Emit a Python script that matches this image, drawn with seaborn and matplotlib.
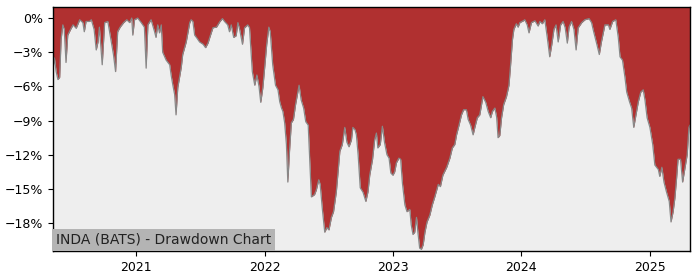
import matplotlib
matplotlib.use("Agg")
import matplotlib.pyplot as plt
import matplotlib.dates as mdates
from matplotlib.ticker import FuncFormatter, MultipleLocator
import seaborn as sns
import pandas as pd

title_text = "INDA (BATS) - Drawdown Chart"

dates = [
    "2020-05-09", "2020-05-13", "2020-05-18", "2020-05-23", "2020-05-28", "2020-06-01",
    "2020-06-06", "2020-06-10", "2020-06-15", "2020-06-20", "2020-06-28", "2020-07-05",
    "2020-07-14", "2020-07-24", "2020-08-02", "2020-08-06", "2020-08-11", "2020-08-21",
    "2020-08-26", "2020-09-03", "2020-09-09", "2020-09-14", "2020-09-18", "2020-09-26",
    "2020-10-03", "2020-10-12", "2020-10-22", "2020-10-28", "2020-11-03", "2020-11-09",
    "2020-11-16", "2020-11-26", "2020-12-05", "2020-12-13", "2020-12-19", "2020-12-22",
    "2020-12-27", "2021-01-05", "2021-01-15", "2021-01-24", "2021-01-29", "2021-02-03",
    "2021-02-12", "2021-02-22", "2021-02-26", "2021-03-03", "2021-03-08", "2021-03-13",
    "2021-03-17", "2021-03-27", "2021-04-06", "2021-04-10", "2021-04-15", "2021-04-20",
    "2021-04-24", "2021-04-29", "2021-05-04", "2021-05-09", "2021-05-13", "2021-05-23",
    "2021-06-02", "2021-06-06", "2021-06-11", "2021-06-16", "2021-06-21", "2021-06-30",
    "2021-07-10", "2021-07-17", "2021-07-24", "2021-07-29", "2021-08-07", "2021-08-17",
    "2021-08-27", "2021-09-03", "2021-09-09", "2021-09-18", "2021-09-23", "2021-09-28",
    "2021-10-05", "2021-10-12", "2021-10-17", "2021-10-22", "2021-10-30", "2021-11-05",
    "2021-11-14", "2021-11-19", "2021-11-27", "2021-12-04", "2021-12-10", "2021-12-16",
    "2021-12-21", "2021-12-27", "2022-01-01", "2022-01-07", "2022-01-13", "2022-01-17",
    "2022-01-24", "2022-02-01", "2022-02-08", "2022-02-13", "2022-02-18", "2022-02-22",
    "2022-02-27", "2022-03-04", "2022-03-08", "2022-03-13", "2022-03-18", "2022-03-24",
    "2022-03-30", "2022-04-09", "2022-04-15", "2022-04-22", "2022-04-28", "2022-05-05",
    "2022-05-09", "2022-05-14", "2022-05-23", "2022-05-28", "2022-06-04", "2022-06-08",
    "2022-06-14", "2022-06-21", "2022-06-27", "2022-07-03", "2022-07-10", "2022-07-16",
    "2022-07-24", "2022-08-03", "2022-08-10", "2022-08-17", "2022-08-23", "2022-08-29",
    "2022-09-05", "2022-09-09", "2022-09-15", "2022-09-19", "2022-09-24", "2022-09-30",
    "2022-10-08", "2022-10-16", "2022-10-22", "2022-10-27", "2022-11-04", "2022-11-10",
    "2022-11-15", "2022-11-19", "2022-11-26", "2022-12-02", "2022-12-08", "2022-12-15",
    "2022-12-21", "2022-12-26", "2023-01-01", "2023-01-06", "2023-01-11", "2023-01-18",
    "2023-01-23", "2023-01-28", "2023-02-04", "2023-02-10", "2023-02-18", "2023-02-22",
    "2023-02-27", "2023-03-04", "2023-03-09", "2023-03-13", "2023-03-18", "2023-03-23",
    "2023-03-28", "2023-04-02", "2023-04-08", "2023-04-16", "2023-04-23", "2023-04-30",
    "2023-05-10", "2023-05-16", "2023-05-23", "2023-06-03", "2023-06-12", "2023-06-19",
    "2023-06-26", "2023-07-01", "2023-07-08", "2023-07-15", "2023-07-21", "2023-07-29",
    "2023-08-03", "2023-08-10", "2023-08-17", "2023-08-22", "2023-08-29", "2023-09-05",
    "2023-09-14", "2023-09-22", "2023-09-29", "2023-10-06", "2023-10-11", "2023-10-18",
    "2023-10-23", "2023-10-27", "2023-11-01", "2023-11-06", "2023-11-12", "2023-11-20",
    "2023-11-27", "2023-12-01", "2023-12-07", "2023-12-11", "2023-12-18", "2023-12-23",
    "2023-12-28", "2024-01-07", "2024-01-11", "2024-01-18", "2024-01-23", "2024-01-30",
    "2024-02-09", "2024-02-18", "2024-02-23", "2024-03-01", "2024-03-08", "2024-03-15",
    "2024-03-22", "2024-03-28", "2024-04-03", "2024-04-09", "2024-04-15", "2024-04-22",
    "2024-04-29", "2024-05-05", "2024-05-11", "2024-05-16", "2024-05-23", "2024-05-30",
    "2024-06-05", "2024-06-11", "2024-06-21", "2024-06-30", "2024-07-12", "2024-07-19",
    "2024-07-25", "2024-08-03", "2024-08-10", "2024-08-16", "2024-08-26", "2024-09-05",
    "2024-09-09", "2024-09-17", "2024-09-26", "2024-10-03", "2024-10-08", "2024-10-15",
    "2024-10-22", "2024-10-27", "2024-11-04", "2024-11-10", "2024-11-16", "2024-11-24",
    "2024-11-29", "2024-12-06", "2024-12-13", "2024-12-18", "2024-12-24", "2025-01-01",
    "2025-01-09", "2025-01-15", "2025-01-25", "2025-01-29", "2025-02-04", "2025-02-10",
    "2025-02-17", "2025-02-25", "2025-03-02", "2025-03-08", "2025-03-13", "2025-03-18",
    "2025-03-22", "2025-03-29", "2025-04-04", "2025-04-11", "2025-04-17", "2025-04-22",
    "2025-04-25",
]

drawdown_pct = [
    -4.4, -3.5, -4.7, -5.4, -5.2, -1.9,
    -0.6, -1.0, -3.9, -1.5, -1.0, -0.6,
    -0.9, -0.15, -0.4, -1.2, -0.3, -0.3,
    -0.15, -1.0, -2.8, -2.1, -0.8, -4.1,
    -0.4, -0.3, -2.1, -3.2, -4.7, -1.2,
    -0.8, -0.4, -0.15, -0.4, 0.0, -1.5,
    -0.15, 0.0, -0.4, -0.8, -4.4, -0.6,
    -0.15, -1.2, -1.7, -0.6, -1.3, -0.6,
    -3.0, -3.7, -4.1, -5.0, -5.9, -6.7,
    -8.5, -6.1, -5.2, -4.3, -3.2, -2.1,
    -0.4, -0.15, -0.3, -1.5, -1.7, -2.1,
    -2.3, -2.6, -2.2, -1.7, -0.85, -0.8,
    -0.3, -0.05, -0.3, -0.6, -1.2, -0.6,
    -1.7, -1.55, -0.4, -1.0, -2.3, -0.85,
    -0.6, -0.85, -4.7, -5.9, -5.0, -6.0,
    -7.4, -6.1, -4.4, -2.3, -0.8, -1.2,
    -4.1, -5.9, -6.3, -7.35, -7.9, -8.2,
    -9.2, -11.1, -14.4, -11.6, -9.2, -8.9,
    -7.6, -5.9, -7.2, -7.9, -9.1, -9.4,
    -12.3, -15.7, -15.5, -15.1, -14.2, -14.6,
    -16.7, -18.8, -18.4, -18.6, -17.5, -17.0,
    -15.25, -11.7, -11.1, -9.6, -10.9, -11.3,
    -10.7, -9.6, -9.8, -10.25, -12.0, -14.9,
    -15.3, -16.1, -15.25, -13.8, -12.4, -10.7,
    -10.1, -11.4, -11.1, -9.5, -10.9, -12.0,
    -12.3, -13.6, -13.8, -13.5, -12.7, -12.3,
    -12.4, -14.5, -16.4, -17.0, -16.8, -18.15,
    -19.0, -18.8, -17.5, -18.8, -20.2, -20.3,
    -19.9, -18.8, -17.9, -17.3, -16.4, -15.7,
    -14.6, -14.8, -13.8, -13.1, -12.3, -11.4,
    -11.1, -10.25, -9.4, -8.5, -8.05, -8.05,
    -8.9, -9.4, -10.25, -9.6, -8.75, -8.5,
    -6.9, -7.4, -8.2, -8.75, -8.2, -7.9,
    -8.7, -10.5, -10.3, -8.75, -7.6, -6.9,
    -5.9, -4.4, -1.9, -1.0, -0.5, -0.8,
    -0.4, -0.24, -0.15, -0.6, -1.3, -0.4,
    -0.24, -0.7, -0.3, -0.5, -0.15, -1.7,
    -3.4, -2.3, -1.0, -0.6, -2.1, -0.6,
    -0.3, -0.85, -2.2, -0.8, -0.3, -1.0,
    -2.8, -0.85, -0.4, -0.15, -0.05, -0.4,
    -1.2, -2.3, -3.2, -2.1, -0.6, -0.6,
    -1.0, -0.3, -0.15, -1.7, -3.4, -3.7,
    -5.2, -6.5, -7.35, -7.9, -9.6, -8.2,
    -7.35, -6.5, -6.3, -7.2, -8.75, -9.6,
    -11.1, -12.9, -13.3, -13.9, -13.1, -14.4,
    -15.25, -16.1, -17.9, -17.0, -15.8, -14.0,
    -12.4, -12.4, -14.4, -13.1, -12.0, -9.6,
    -9.4,
]

y_ticks = [0, -3, -6, -9, -12, -15, -18]

df = pd.DataFrame({"date": pd.to_datetime(dates), "dd": drawdown_pct})

sns.set_style("ticks")
plt.rcParams["font.family"] = ["DejaVu Sans"]

fig = plt.figure(figsize=(7.0, 2.8), dpi=100)
ax = fig.add_axes([0.0757, 0.1036, 0.91, 0.8714])
ax.set_facecolor("#eeeeee")

top = 0.97
bottom = -20.45
ax.fill_between(df["date"], df["dd"], top, color="#b03030", linewidth=0)
sns.lineplot(data=df, x="date", y="dd", ax=ax, color="#888888", linewidth=0.9)

ax.set_ylim(bottom, top)
ax.set_xlim(df["date"].min(), df["date"].max())
ax.set_yticks(y_ticks)
ax.yaxis.set_major_formatter(FuncFormatter(
    lambda v, p: f"{int(round(v))}%".replace("-", "\u2212")))
ax.xaxis.set_major_locator(mdates.YearLocator())
ax.xaxis.set_major_formatter(mdates.DateFormatter("%Y"))
ax.set_xlabel("")
ax.set_ylabel("")
ax.tick_params(axis="both", labelsize=9, length=3.5, width=0.8, colors="black")
for s in ax.spines.values():
    s.set_visible(True)
    s.set_color("black")
    s.set_linewidth(1.0)

ax.annotate(title_text, xy=(0, 0), xycoords="axes fraction",
            xytext=(3, 4), textcoords="offset pixels",
            ha="left", va="bottom", fontsize=10, color="#222222",
            bbox=dict(facecolor="#b4b4b4", edgecolor="none", pad=2.6))

fig.savefig("out.png", dpi=100)
